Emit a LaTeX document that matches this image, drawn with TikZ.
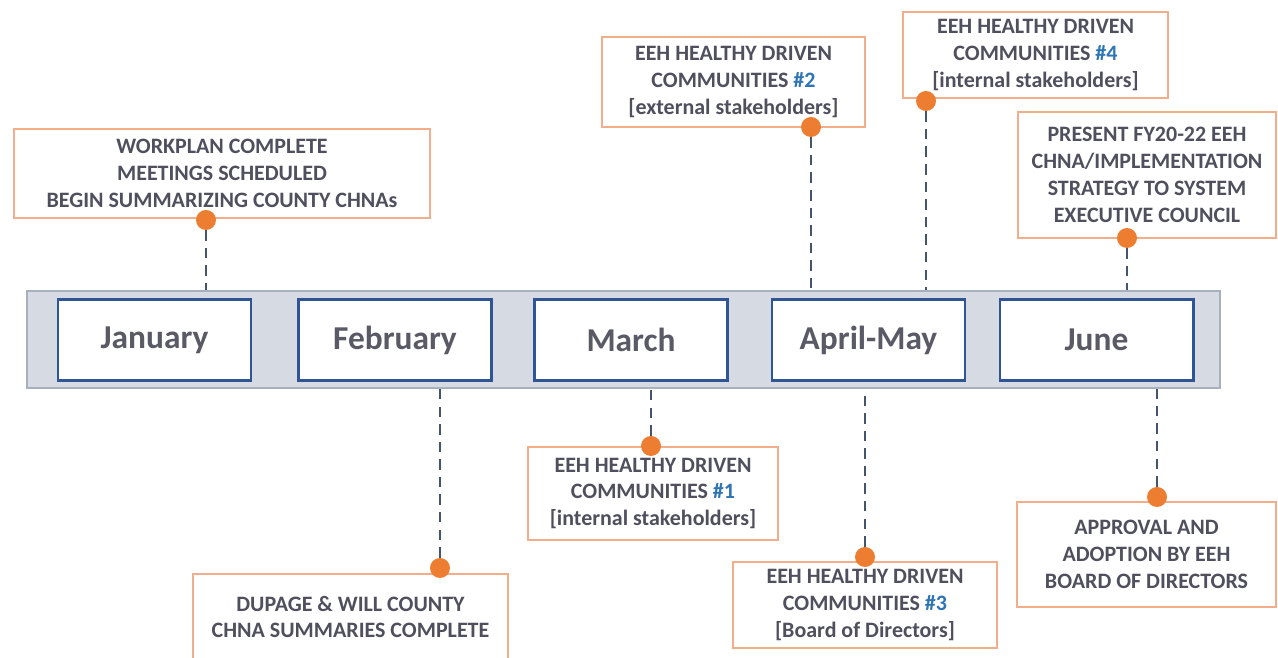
\documentclass[tikz,border=0pt]{standalone}
\usepackage{fontspec}
\setmainfont{Carlito}
\usetikzlibrary{positioning}
\definecolor{tlbar}{HTML}{D5DAE3}
\definecolor{tlbarline}{HTML}{A9B0BD}
\definecolor{tlblue}{HTML}{2F5597}
\definecolor{tlpeach}{HTML}{F2AE8A}
\definecolor{tlorange}{HTML}{ED7D31}
\definecolor{tlslate}{HTML}{44546A}
\definecolor{tltext}{HTML}{4F4F5E}
\definecolor{tlmonth}{HTML}{5A5A66}
\definecolor{tlnum}{HTML}{2E75B6}

\begin{document}
\begin{tikzpicture}[
  monthbox/.style={rectangle, draw=tlblue, line width=1.7pt, fill=white, minimum width=3.86cm, minimum height=1.62cm, font=\fontsize{19}{23}\selectfont\bfseries, text=tlmonth},
  callout/.style={rectangle, draw=tlpeach, line width=0.9pt, fill=white, align=center, inner sep=2pt, font=\fontsize{12.5}{15.3}\selectfont\bfseries, text=tltext},
  pin/.style={circle, fill=tlorange, draw=none, minimum size=0.4cm, inner sep=0pt},
  link/.style={draw=tlslate, line width=1.6pt, dash pattern=on 6pt off 4pt},
]
\useasboundingbox (0,0) rectangle (25.56,13.16);

% timeline bar with the months
\node[rectangle, fill=tlbar, draw=tlbarline, line width=0.8pt, minimum width=23.86cm, minimum height=1.94cm] (bar) at (12.47, 6.37) {};

\node[monthbox] (jan) at (3.09, 6.36) {January};
\node[monthbox] (feb) at (7.90, 6.36) {February};
\node[monthbox] (mar) at (12.62, 6.36) {March};
\node[monthbox] (apr) at (17.37, 6.36) {April-May};
\node[monthbox] (jun) at (21.93, 6.36) {June};

% milestones above the bar
\node[callout, minimum width=8.32cm, minimum height=1.78cm] (workplan) at (4.44, 9.69)
  {WORKPLAN COMPLETE\\MEETINGS SCHEDULED\\BEGIN SUMMARIZING COUNTY CHNAs};
\node[callout, minimum width=5.26cm, minimum height=1.8cm] (hdc2) at (14.67, 11.52)
  {EEH HEALTHY DRIVEN\\COMMUNITIES \textcolor{tlnum}{\#2}\\{[}external stakeholders{]}};
\node[callout, minimum width=5.3cm, minimum height=1.72cm] (hdc4) at (20.71, 12.06)
  {EEH HEALTHY DRIVEN\\COMMUNITIES \textcolor{tlnum}{\#4}\\{[}internal stakeholders{]}};
\node[callout, minimum width=5.16cm, minimum height=2.52cm] (present) at (22.94, 9.66)
  {PRESENT FY20-22 EEH\\CHNA/IMPLEMENTATION\\STRATEGY TO SYSTEM\\EXECUTIVE COUNCIL};

% milestones below the bar
\node[callout, minimum width=6.3cm, minimum height=1.72cm] (dupage) at (7.01, 0.82)
  {DUPAGE \& WILL COUNTY\\CHNA SUMMARIES COMPLETE};
\node[callout, minimum width=5.0cm, minimum height=1.86cm] (hdc1) at (13.06, 3.29)
  {EEH HEALTHY DRIVEN\\COMMUNITIES \textcolor{tlnum}{\#1}\\{[}internal stakeholders{]}};
\node[callout, minimum width=5.28cm, minimum height=1.72cm] (hdc3) at (17.30, 1.06)
  {EEH HEALTHY DRIVEN\\COMMUNITIES \textcolor{tlnum}{\#3}\\{[}Board of Directors{]}};
\node[callout, minimum width=5.18cm, minimum height=2.1cm] (approval) at (22.93, 2.07)
  {APPROVAL AND\\ADOPTION BY EEH\\BOARD OF DIRECTORS};

% pins
\node[pin] (pworkplan) at (4.12, 8.76) {};
\node[pin] (phdc2) at (16.22, 10.62) {};
\node[pin] (phdc4) at (18.52, 11.14) {};
\node[pin] (ppresent) at (22.54, 8.40) {};
\node[pin] (pdupage) at (8.80, 1.80) {};
\node[pin] (phdc1) at (13.02, 4.24) {};
\node[pin] (phdc3) at (17.30, 2.02) {};
\node[pin] (papproval) at (23.14, 3.22) {};

% leaders to the bar
\foreach \p in {pworkplan, phdc2, phdc4, ppresent}
  \draw[link] (\p) -- (\p |- bar.north);
\foreach \p in {pdupage, phdc1, phdc3, papproval}
  \draw[link] (\p) -- (\p |- bar.south);

\end{tikzpicture}
\end{document}
